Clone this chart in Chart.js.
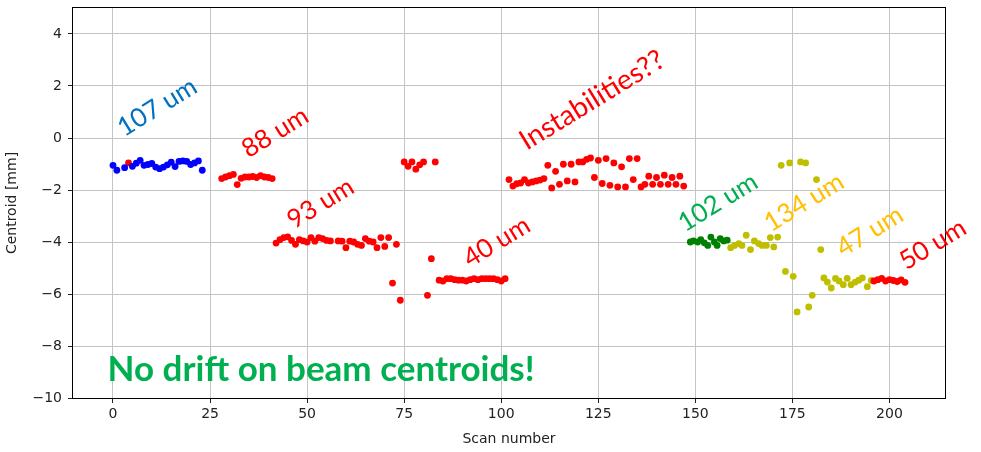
<!DOCTYPE html>
<html><head><meta charset="utf-8">
<script src="https://cdn.jsdelivr.net/npm/chart.js@4/dist/chart.umd.min.js"></script>
<style>html,body{margin:0;padding:0;background:#fff;}#wrap{width:981px;height:452px;position:relative;}</style>
</head><body><div id="wrap"><canvas id="c"></canvas></div>
<script>
// ---- data ----
const xTicks = [0, 25, 50, 75, 100, 125, 150, 175, 200];
const yTicks = [-10, -8, -6, -4, -2, 0, 2, 4];

const blueX = [0, 1, 3, 5, 6, 7, 8, 9, 10, 11, 12, 13, 14, 15, 16, 17, 18, 19, 20, 21, 22, 23];
const blueY = [-1.05, -1.24, -1.14, -1.09, -0.97, -0.86, -1.05, -1.02, -0.98, -1.12, -1.18, -1.12, -1.03, -0.93, -1.1, -0.9, -0.88, -0.9, -1.02, -0.96, -0.88, -1.24];

const redX = [4,
  28, 29, 30, 31, 32, 33, 34, 35, 36, 37, 38, 39, 40, 41,
  42, 43, 44, 45, 46, 47, 48, 49, 50, 51, 52, 53, 54, 55, 56, 58, 59, 60, 61, 62, 63, 64, 65, 66, 67, 68, 69, 70, 71, 72, 73, 74,
  75, 76, 77, 78, 79, 80, 81, 82, 83,
  84, 85, 86, 87, 88, 89, 90, 91, 92, 93, 94, 95, 96, 97, 98, 99, 100, 101,
  102, 103, 104, 105, 106, 107, 108, 109, 110, 111, 112, 113, 114, 115, 116, 117, 118, 119, 120, 121, 122, 123, 124, 125, 126, 127, 128, 129, 130, 131, 132, 133, 134, 135, 136, 137, 138, 139, 140, 141, 142, 143, 144, 145, 146, 147,
  196, 197, 198, 199, 200, 201, 202, 203, 204];
const redY = [-0.96,
  -1.56, -1.5, -1.45, -1.4, -1.79, -1.55, -1.5, -1.5, -1.48, -1.52, -1.45, -1.5, -1.52, -1.56,
  -4.04, -3.91, -3.83, -3.8, -3.94, -4.09, -3.91, -3.96, -4.0, -3.83, -3.97, -3.83, -3.87, -3.94, -3.96, -3.96, -3.97, -4.22, -3.97, -4.0, -4.09, -4.13, -3.87, -3.97, -4.0, -4.22, -3.83, -4.17, -3.83, -5.58, -4.09, -6.24,
  -0.92, -1.09, -0.92, -1.2, -1.03, -0.92, -6.05, -4.64, -0.92,
  -5.47, -5.5, -5.41, -5.41, -5.45, -5.47, -5.47, -5.5, -5.45, -5.41, -5.45, -5.41, -5.41, -5.41, -5.41, -5.45, -5.5, -5.41,
  -1.6, -1.85, -1.76, -1.73, -1.6, -1.73, -1.69, -1.65, -1.62, -1.56, -1.05, -1.92, -1.28, -1.78, -1.01, -1.65, -1.01, -1.69, -0.92, -0.92, -0.82, -0.77, -1.52, -0.86, -1.75, -0.79, -1.82, -0.96, -1.88, -1.11, -1.88, -0.79, -1.6, -0.79, -1.88, -1.78, -1.47, -1.78, -1.52, -1.78, -1.43, -1.78, -1.52, -1.78, -1.47, -1.85,
  -5.5, -5.45, -5.4, -5.5, -5.45, -5.48, -5.52, -5.46, -5.55];

const greenX = [148.7, 149.5, 150.6, 151.4, 152.3, 153.2, 154, 154.9, 155.6, 156.4, 157.3, 158.2];
const greenY = [-4.0, -3.96, -4.0, -3.91, -4.03, -4.13, -3.81, -4.0, -4.13, -3.87, -3.96, -3.93];

const oliveX = [159.1, 160.1, 161.2, 162, 163.1, 164.2, 165.2, 166.3, 167.2, 168.3, 169.3, 170.2, 171.2,
  172.1, 173.2, 174.3, 175.2, 176.2, 177.1, 178.4, 179.2, 180.1, 181.2, 182.3,
  183.1, 184, 185, 186.1, 187, 188.1, 189.1, 190.1, 191.2, 192.1, 193, 194.3, 195.3];
const oliveY = [-4.22, -4.13, -4.06, -4.13, -3.74, -4.29, -3.96, -4.06, -4.13, -4.13, -3.83, -4.19, -3.81,
  -1.05, -5.13, -0.96, -5.32, -6.69, -0.92, -0.96, -6.5, -6.05, -1.6, -4.29,
  -5.38, -5.54, -5.77, -5.4, -5.5, -5.64, -5.4, -5.64, -5.54, -5.47, -5.38, -5.72, -5.48];

const noteTexts = ['107 um', '88 um', '93 um', '40 um', 'Instabilities??', '102 um', '134 um', '47 um', '50 um'];
const noteX = [2.9, 34.9, 46.6, 92.0, 106.6, 147.3, 169.5, 188.1, 204.3];
const noteY = [0.03, -0.79, -3.52, -5.0, -0.49, -3.63, -3.63, -4.6, -5.1];
const noteSizes = [26, 26, 26, 26, 28, 26, 26, 26, 26];
const noteColors = ['#0070C0', '#FF0000', '#FF0000', '#FF0000', '#FF0000', '#00B050', '#FFC000', '#FFC000', '#FF0000'];
const bannerText = 'No drift on beam centroids!';
const bannerX = -1.4, bannerY = -9.35;

// ---- chart ----
const pts = (xs, ys) => xs.map((x, i) => ({x: x, y: ys[i]}));
const ds = (xs, ys, c) => ({data: pts(xs, ys), backgroundColor: c, borderWidth: 0, pointRadius: 3.4, pointHoverRadius: 3.4});
const fmt = v => v < 0 ? '\u2212' + Math.abs(v) : String(v);
const tickFont = {family: 'DejaVu Sans', size: 14};

const frameAndNotes = {
  id: 'frameAndNotes',
  afterDatasetsDraw(chart) {
    const {ctx, chartArea: a, scales} = chart;
    ctx.save();
    ctx.strokeStyle = '#000';
    ctx.lineWidth = 1;
    ctx.strokeRect(a.left - 0.5, a.top - 0.5, a.right - a.left + 1, a.bottom - a.top + 1);
    ctx.textAlign = 'left';
    ctx.textBaseline = 'alphabetic';
    noteTexts.forEach((t, i) => {
      ctx.save();
      ctx.translate(scales.x.getPixelForValue(noteX[i]), scales.y.getPixelForValue(noteY[i]));
      ctx.rotate(-31.5 * Math.PI / 180);
      ctx.fillStyle = noteColors[i];
      ctx.font = noteSizes[i] + 'px Lato';
      ctx.fillText(t, 0, 0);
      ctx.restore();
    });
    ctx.fillStyle = '#00B050';
    ctx.font = 'bold 35px Lato';
    ctx.fillText(bannerText, scales.x.getPixelForValue(bannerX), scales.y.getPixelForValue(bannerY));
    ctx.restore();
  }
};

new Chart(document.getElementById('c'), {
  type: 'scatter',
  data: {datasets: [
    ds(blueX, blueY, '#0000FF'),
    ds(redX, redY, '#FF0000'),
    ds(greenX, greenY, '#008000'),
    ds(oliveX, oliveY, '#BFBF00')
  ]},
  options: {
    responsive: true, maintainAspectRatio: false, devicePixelRatio: 1, animation: false,
    layout: {padding: {left: 0, top: 8, right: 36, bottom: 0}},
    plugins: {legend: {display: false}, tooltip: {enabled: false}},
    scales: {
      x: {
        type: 'linear', min: -10.3, max: 214.3,
        afterBuildTicks: s => { s.ticks = xTicks.map(v => ({value: v})); },
        afterFit: s => { s.height = 54; s.paddingLeft = 0; s.paddingRight = 0; },
        ticks: {font: tickFont, color: '#222', padding: 3, maxRotation: 0, autoSkip: false, callback: fmt},
        grid: {color: '#c4c4c4', tickColor: '#222', tickLength: 5, lineWidth: 1},
        border: {display: false},
        title: {display: true, text: 'Scan number', color: '#222', font: tickFont, padding: {top: 0, bottom: 4}}
      },
      y: {
        type: 'linear', min: -10, max: 5,
        afterBuildTicks: s => { s.ticks = yTicks.map(v => ({value: v})); },
        afterFit: s => { s.width = 73; s.paddingTop = 0; s.paddingBottom = 0; },
        ticks: {font: tickFont, color: '#222', padding: 6, callback: fmt},
        grid: {color: '#c4c4c4', tickColor: '#222', tickLength: 5, lineWidth: 1},
        border: {display: false},
        title: {display: true, text: 'Centroid [mm]', color: '#222', font: tickFont, padding: {top: 4, bottom: 0}}
      }
    }
  },
  plugins: [frameAndNotes]
});
</script>
</body></html>
